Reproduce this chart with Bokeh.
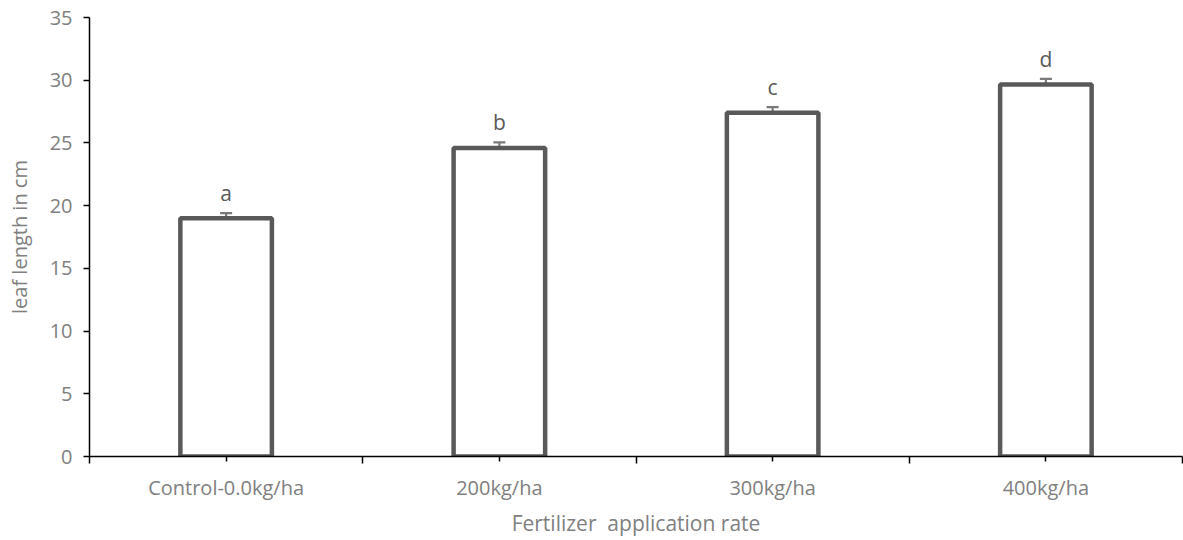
from bokeh.plotting import figure
from bokeh.models import Range1d, FixedTicker, ColumnDataSource, Whisker, TeeHead
from bokeh.core.properties import value
from bokeh.embed import file_html
from bokeh.resources import INLINE

categories = ["Control-0.0kg/ha", "200kg/ha", "300kg/ha", "400kg/ha"]
leaf_length = [19.0, 24.6, 27.4, 29.65]
std_err = [0.4, 0.45, 0.45, 0.45]
letters = ["a", "b", "c", "d"]
y_ticks = [0, 5, 10, 15, 20, 25, 30, 35]

FONT = "Open Sans"
n = len(categories)
centers = [i + 0.5 for i in range(n)]
bounds = [float(i) for i in range(n + 1)]

src = ColumnDataSource(dict(
    x=centers, top=leaf_length,
    upper=[v + e for v, e in zip(leaf_length, std_err)],
    lower=[v - e for v, e in zip(leaf_length, std_err)],
    lab=letters,
))

p = figure(width=1183, height=540, output_backend="svg", toolbar_location=None,
           x_range=Range1d(0, n), y_range=Range1d(0, 35),
           min_border_left=89, min_border_right=1, min_border_top=17, min_border_bottom=84)
p.outline_line_color = None
p.grid.visible = False
p.background_fill_color = "white"
p.border_fill_color = "white"

p.vbar(x="x", top="top", bottom=0, width=0.335, source=src,
       fill_color="white", line_color="#595959", line_width=4.5)

w = Whisker(source=src, base="x", upper="upper", lower="lower",
            line_color="#7a7a7a", line_width=2.2,
            upper_head=TeeHead(size=12, line_color="#7a7a7a", line_width=2.2),
            lower_head=TeeHead(size=12, line_color="#7a7a7a", line_width=2.2))
p.add_layout(w)

p.text(x="x", y="upper", text="lab", source=src, text_align="center",
       text_baseline="bottom", y_offset=-6, text_font=value(FONT),
       text_font_size="21px", text_color="#595959")

xa = p.xaxis[0]
xa.ticker = FixedTicker(ticks=centers, minor_ticks=bounds)
xa.major_label_overrides = {c: lab for c, lab in zip(centers, categories)}
xa.axis_line_color = "black"
xa.axis_line_width = 1.5
xa.major_tick_line_color = "black"
xa.major_tick_line_width = 1.5
xa.major_tick_out = 5
xa.major_tick_in = 0
xa.minor_tick_line_color = "black"
xa.minor_tick_line_width = 1.5
xa.minor_tick_out = 7
xa.minor_tick_in = 0
xa.major_label_standoff = 10
xa.major_label_text_font = FONT
xa.major_label_text_font_size = "20px"
xa.major_label_text_color = "#808080"
xa.axis_label = "Fertilizer\u00a0 application rate"
xa.axis_label_text_font = FONT
xa.axis_label_text_font_size = "21px"
xa.axis_label_text_font_style = "normal"
xa.axis_label_text_color = "#808080"
xa.axis_label_standoff = 5

ya = p.yaxis[0]
ya.ticker = FixedTicker(ticks=y_ticks)
ya.axis_line_color = "black"
ya.axis_line_width = 1.5
ya.major_tick_line_color = "black"
ya.major_tick_line_width = 1.5
ya.major_tick_out = 6
ya.major_tick_in = 0
ya.minor_tick_line_color = None
ya.major_label_standoff = 11
ya.major_label_text_font = FONT
ya.major_label_text_font_size = "20px"
ya.major_label_text_color = "#808080"
ya.axis_label = "leaf length in cm"
ya.axis_label_text_font = FONT
ya.axis_label_text_font_size = "20px"
ya.axis_label_text_font_style = "normal"
ya.axis_label_text_color = "#808080"
ya.axis_label_standoff = 14

open("out.html", "w").write(file_html(p, INLINE))
